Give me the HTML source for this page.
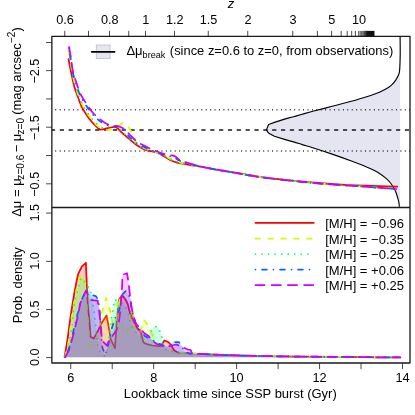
<!DOCTYPE html><html><head><meta charset="utf-8"><style>html,body{margin:0;padding:0;background:#fff}svg{display:block;will-change:transform}</style></head><body><svg width="415" height="415" viewBox="0 0 415 415" font-family="Liberation Sans, sans-serif" fill="#000">
<rect width="415" height="415" fill="#fff"/>
<g stroke="#000" fill="none">
<line x1="51.86" x2="410.0" y1="129.9" y2="129.9" stroke-width="1.45" stroke-dasharray="4.2,4.65" stroke-dashoffset="0.95" stroke="#1a1a1a"/>
<line x1="55.26" x2="410.0" y1="109.8" y2="109.8" stroke-width="1.45" stroke-dasharray="0.95,3.475" stroke="#2a2a2a"/>
<line x1="55.26" x2="410.0" y1="151.0" y2="151.0" stroke-width="1.45" stroke-dasharray="0.95,3.475" stroke="#2a2a2a"/>
</g>
<path d="M400.1,36.5 C400.1,39.6 400.3,49.4 400.2,55.0 C400.1,60.6 399.9,67.0 399.6,70.4 C399.3,73.8 398.9,73.9 398.2,75.5 C397.5,77.1 396.6,78.6 395.7,80.1 C394.8,81.5 393.8,82.9 392.5,84.2 C391.2,85.5 390.1,86.5 388.0,87.8 C385.9,89.1 382.9,90.7 380.0,92.0 C377.1,93.3 375.5,94.0 370.7,95.5 C365.9,97.0 357.8,99.5 351.4,101.3 C345.0,103.1 338.5,104.6 332.1,106.3 C325.7,108.0 317.8,110.0 312.8,111.3 C307.8,112.6 305.4,113.4 302.2,114.3 C299.0,115.2 296.4,115.9 293.6,116.7 C290.8,117.5 286.8,118.5 285.4,118.9 L275.2,122.1 L268.6,124.5 L266.4,129.9 L268.4,132.9 L274.4,136.3 L285.4,139.6  C286.8,140.0 290.8,141.1 293.6,141.9 C296.4,142.7 299.0,143.6 302.2,144.6 C305.4,145.6 307.8,146.1 312.8,147.7 C317.8,149.3 325.7,151.9 332.1,154.1 C338.5,156.3 345.0,158.6 351.4,161.0 C357.8,163.4 366.1,166.7 370.7,168.7 C375.2,170.7 376.1,171.4 378.7,173.0 C381.3,174.6 384.1,176.7 386.1,178.4 C388.1,180.1 389.2,181.4 390.5,183.0 C391.8,184.6 392.9,186.4 393.8,188.0 C394.7,189.6 395.4,190.9 396.0,192.5 C396.6,194.1 397.2,196.1 397.6,197.6 C398.1,199.1 398.4,200.0 398.7,201.5 C399.0,203.0 399.3,205.9 399.4,206.8 L400.1,206.8 L400.1,36.5 Z" fill="#000080" fill-opacity="0.1" stroke="none"/>
<path d="M400.1,36.5 C400.1,39.6 400.3,49.4 400.2,55.0 C400.1,60.6 399.9,67.0 399.6,70.4 C399.3,73.8 398.9,73.9 398.2,75.5 C397.5,77.1 396.6,78.6 395.7,80.1 C394.8,81.5 393.8,82.9 392.5,84.2 C391.2,85.5 390.1,86.5 388.0,87.8 C385.9,89.1 382.9,90.7 380.0,92.0 C377.1,93.3 375.5,94.0 370.7,95.5 C365.9,97.0 357.8,99.5 351.4,101.3 C345.0,103.1 338.5,104.6 332.1,106.3 C325.7,108.0 317.8,110.0 312.8,111.3 C307.8,112.6 305.4,113.4 302.2,114.3 C299.0,115.2 296.4,115.9 293.6,116.7 C290.8,117.5 286.8,118.5 285.4,118.9 L275.2,122.1 L268.6,124.5 L266.4,129.9 L268.4,132.9 L274.4,136.3 L285.4,139.6  C286.8,140.0 290.8,141.1 293.6,141.9 C296.4,142.7 299.0,143.6 302.2,144.6 C305.4,145.6 307.8,146.1 312.8,147.7 C317.8,149.3 325.7,151.9 332.1,154.1 C338.5,156.3 345.0,158.6 351.4,161.0 C357.8,163.4 366.1,166.7 370.7,168.7 C375.2,170.7 376.1,171.4 378.7,173.0 C381.3,174.6 384.1,176.7 386.1,178.4 C388.1,180.1 389.2,181.4 390.5,183.0 C391.8,184.6 392.9,186.4 393.8,188.0 C394.7,189.6 395.4,190.9 396.0,192.5 C396.6,194.1 397.2,196.1 397.6,197.6 C398.1,199.1 398.4,200.0 398.7,201.5 C399.0,203.0 399.3,205.9 399.4,206.8" fill="none" stroke="#000" stroke-width="1.15" stroke-linejoin="round"/>
<path d="M68.5,59.1 C68.9,61.2 70.0,67.1 71.0,71.7 C72.0,76.3 73.1,82.4 74.4,86.9 C75.7,91.4 77.4,95.4 78.6,98.7 C79.8,102.0 80.3,104.0 81.7,106.8 C83.1,109.5 85.1,112.7 86.8,115.2 C88.5,117.7 90.2,120.0 91.9,122.0 C93.6,124.0 95.5,125.7 96.9,127.0 C98.4,128.3 98.6,129.4 100.6,129.6 C102.6,129.8 106.4,128.3 108.7,127.9 C111.0,127.5 113.0,126.9 114.6,127.0 C116.1,127.1 116.7,127.7 118.0,128.7 C119.3,129.7 120.4,131.2 122.2,132.9 C124.0,134.6 126.5,136.7 129.0,138.8 C131.5,140.9 134.7,143.8 137.4,145.6 C140.1,147.4 143.0,148.9 145.0,149.8 C147.0,150.7 147.4,150.4 149.3,150.8 C151.2,151.2 154.1,151.6 156.5,152.5 C158.9,153.4 161.3,154.8 163.7,156.1 C166.1,157.4 168.6,159.4 171.0,160.5 C173.4,161.6 175.4,162.2 178.2,162.9 C181.0,163.6 183.8,163.9 187.8,164.6 C191.8,165.3 197.9,166.2 202.3,167.0 C206.7,167.8 209.7,168.6 214.3,169.4 C218.9,170.2 221.8,170.5 230.0,171.8 C238.2,173.1 249.6,175.5 263.2,177.3 C276.8,179.1 297.8,181.2 311.4,182.4 C325.0,183.7 330.7,184.1 345.0,184.8 C359.3,185.5 388.6,186.3 397.3,186.6" fill="none" stroke="#FF0000" stroke-width="1.75" stroke-linecap="round" stroke-linejoin="round"/>
<path d="M68.8,52.3 C69.1,54.2 70.0,59.5 70.8,64.0 C71.6,68.5 72.5,74.2 73.6,79.0 C74.7,83.8 76.3,89.0 77.6,93.0 C78.9,97.0 80.1,100.0 81.6,103.2 C83.1,106.5 84.9,109.8 86.6,112.5 C88.3,115.2 90.2,117.3 91.9,119.5 C93.6,121.7 94.9,123.7 96.9,125.4 C98.9,127.1 101.5,128.9 103.7,129.6 C106.0,130.3 108.2,130.0 110.4,129.6 C112.7,129.2 115.0,128.1 117.2,127.0 C119.5,125.9 121.9,122.6 123.9,122.8 C125.9,123.0 127.7,126.2 129.0,127.9 C130.3,129.6 130.6,131.0 131.5,133.0 C132.4,135.0 133.2,137.9 134.5,140.0 C135.8,142.1 137.1,144.0 139.0,145.5 C140.9,147.0 143.8,148.1 146.0,149.0 C148.2,149.9 150.0,150.3 152.0,151.0 C154.0,151.7 155.8,152.1 158.0,153.0 C160.2,153.9 162.7,155.1 165.0,156.2 C167.3,157.3 169.7,158.8 172.0,159.8 C174.3,160.8 176.4,161.5 179.0,162.2 C181.6,162.9 183.9,163.4 187.8,164.2 C191.7,165.0 197.8,166.0 202.3,166.8 C206.8,167.7 210.4,168.4 215.0,169.3 C219.6,170.2 222.0,170.6 230.0,172.0 C238.0,173.4 249.6,175.7 263.2,177.5 C276.8,179.3 297.8,181.5 311.4,182.8 C325.0,184.1 337.0,184.8 345.0,185.4 C353.0,186.0 353.8,185.9 359.6,186.3 C365.4,186.7 373.9,187.4 380.0,187.8 C386.1,188.2 393.7,188.8 396.4,189.0" fill="none" stroke="#CCFF00" stroke-width="1.75" stroke-linecap="round" stroke-linejoin="round" stroke-dasharray="4.73,8.23"/>
<path d="M68.8,51.0 C69.1,53.0 70.0,58.5 70.8,63.0 C71.6,67.5 72.4,73.2 73.5,78.0 C74.6,82.8 76.2,88.0 77.5,92.0 C78.8,96.0 80.0,98.8 81.5,102.0 C83.0,105.2 84.8,108.2 86.5,111.0 C88.2,113.8 90.2,116.4 91.9,118.6 C93.7,120.8 95.2,122.5 97.0,124.0 C98.8,125.5 100.6,127.5 102.8,127.9 C105.0,128.3 108.2,126.5 110.4,126.2 C112.6,125.9 114.2,125.5 116.0,126.2 C117.8,126.9 119.5,128.7 121.5,130.5 C123.5,132.3 125.5,134.9 128.0,137.2 C130.6,139.5 134.0,142.4 136.8,144.4 C139.6,146.4 142.5,147.9 145.0,149.0 C147.5,150.1 149.8,150.3 152.0,151.0 C154.2,151.7 155.8,152.2 158.0,153.0 C160.2,153.8 162.7,154.9 165.0,156.0 C167.3,157.1 169.7,158.5 172.0,159.5 C174.3,160.5 176.4,161.2 179.0,162.0 C181.6,162.8 183.9,163.2 187.8,164.0 C191.7,164.8 197.8,165.9 202.3,166.8 C206.8,167.7 210.4,168.4 215.0,169.3 C219.6,170.2 222.0,170.6 230.0,172.0 C238.0,173.4 249.6,175.7 263.2,177.5 C276.8,179.3 297.8,181.5 311.4,182.8 C325.0,184.1 337.0,184.8 345.0,185.4 C353.0,186.0 353.8,185.9 359.6,186.3 C365.4,186.7 373.9,187.4 380.0,187.8 C386.1,188.2 393.7,188.8 396.4,189.0" fill="none" stroke="#00FF66" stroke-width="1.75" stroke-linecap="round" stroke-linejoin="round" stroke-dasharray="0.01,6.61"/>
<path d="M69.1,48.3 C69.3,50.0 70.1,54.9 70.6,58.5 C71.1,62.1 71.4,66.1 72.2,70.0 C73.0,73.9 74.3,78.0 75.5,82.0 C76.7,86.0 78.1,90.5 79.6,94.0 C81.1,97.5 82.5,99.8 84.5,103.0 C86.5,106.2 89.8,110.9 91.9,113.5 C94.0,116.1 94.9,116.9 96.9,118.6 C98.9,120.3 101.2,122.4 103.7,123.7 C106.2,125.0 109.6,125.8 112.1,126.2 C114.6,126.7 116.4,125.6 118.5,126.4 C120.6,127.2 122.8,129.2 124.5,130.8 C126.2,132.5 127.0,134.3 129.0,136.3 C131.0,138.3 133.7,141.1 136.5,143.0 C139.3,144.9 142.8,146.5 146.0,148.0 C149.2,149.5 152.7,150.8 156.0,152.0 C159.3,153.2 163.0,154.4 166.0,155.3 C169.0,156.2 171.8,156.6 174.0,157.5 C176.2,158.4 177.1,159.5 179.4,160.5 C181.7,161.5 184.0,162.2 187.8,163.3 C191.6,164.4 197.8,165.8 202.3,166.8 C206.8,167.8 210.4,168.4 215.0,169.3 C219.6,170.2 222.0,170.6 230.0,172.0 C238.0,173.4 249.6,175.7 263.2,177.5 C276.8,179.3 297.8,181.5 311.4,182.8 C325.0,184.1 337.0,184.8 345.0,185.4 C353.0,186.0 353.8,185.9 359.6,186.3 C365.4,186.7 373.9,187.4 380.0,187.8 C386.1,188.2 393.7,188.8 396.4,189.0" fill="none" stroke="#0066FF" stroke-width="1.75" stroke-linecap="round" stroke-linejoin="round" stroke-dasharray="0.01,6.61,4.73,6.61"/>
<path d="M69.1,47.0 C69.4,48.9 70.4,54.4 71.0,58.2 C71.6,62.0 71.9,66.1 72.7,70.0 C73.5,73.9 74.8,77.9 76.1,81.8 C77.4,85.7 78.8,90.2 80.3,93.6 C81.8,97.0 84.0,99.9 85.4,102.1 C86.8,104.3 87.2,104.9 88.5,106.8 C89.8,108.7 91.5,111.4 93.5,113.5 C95.5,115.6 98.0,117.8 100.3,119.5 C102.5,121.2 104.8,123.0 107.0,124.0 C109.2,125.0 111.5,125.2 113.8,125.7 C116.0,126.2 118.5,126.2 120.5,127.0 C122.5,127.8 123.9,129.0 125.6,130.4 C127.3,131.8 128.7,133.6 130.6,135.5 C132.5,137.4 134.5,139.8 137.2,141.7 C139.9,143.6 143.7,145.4 146.9,147.0 C150.1,148.6 153.3,150.1 156.5,151.3 C159.7,152.6 163.1,153.7 166.1,154.5 C169.1,155.3 172.4,155.2 174.6,156.1 C176.8,157.0 177.2,158.7 179.4,159.8 C181.6,160.9 184.0,161.7 187.8,162.9 C191.6,164.1 197.8,165.7 202.3,166.8 C206.8,167.9 210.4,168.4 215.0,169.3 C219.6,170.2 222.0,170.6 230.0,172.0 C238.0,173.4 249.6,175.7 263.2,177.5 C276.8,179.3 297.8,181.5 311.4,182.8 C325.0,184.1 337.0,184.8 345.0,185.4 C353.0,186.0 353.8,185.9 359.6,186.3 C365.4,186.7 373.9,187.4 380.0,187.8 C386.1,188.2 393.7,188.8 396.4,189.0" fill="none" stroke="#CC00FF" stroke-width="1.75" stroke-linecap="round" stroke-linejoin="round" stroke-dasharray="9.59,6.61"/>
<path d="M64.6,357.0 L67.5,339.3 L70.0,320.5 L71.9,308.0 L74.4,292.6 L76.3,282.6 L78.2,273.8 L81.9,266.3 L85.9,262.8 L86.9,287.6 L87.8,305.0 L89.4,320.5 L90.5,336.8 L93.8,338.5 L97.3,332.5 L100.8,324.5 L106.5,315.4 L109.4,330.6 L110.7,339.3 L115.0,348.1 L116.6,323.0 L118.0,308.5 L119.0,299.5 L120.6,297.4 L122.8,296.0 L125.5,299.5 L127.7,303.9 L129.3,310.4 L131.5,316.9 L134.7,323.4 L136.3,326.8 L140.7,331.8 L143.2,341.8 L144.4,343.2 L147.6,344.3 L152.5,345.5 L160.7,346.3 L164.4,340.5 L168.2,342.0 L171.3,345.1 L173.8,350.1 L177.6,352.6 L192.0,353.5 L205.0,354.2 L220.0,354.8 L240.0,355.5 L260.0,356.0 L280.0,356.4 L300.0,356.6 L340.0,356.9 L380.0,357.3 L400.3,357.4 L400.3,357.2 L64.6,357.2 Z" fill="#FF0000" fill-opacity="0.2" stroke="none"/>
<path d="M64.6,357.0 L67.5,339.3 L70.0,320.5 L71.9,308.0 L74.4,292.6 L76.3,282.6 L78.2,273.8 L81.9,266.3 L85.9,262.8 L86.9,287.6 L87.8,305.0 L89.4,320.5 L90.5,336.8 L93.8,338.5 L97.3,332.5 L100.8,324.5 L106.5,315.4 L109.4,330.6 L110.7,339.3 L115.0,348.1 L116.6,323.0 L118.0,308.5 L119.0,299.5 L120.6,297.4 L122.8,296.0 L125.5,299.5 L127.7,303.9 L129.3,310.4 L131.5,316.9 L134.7,323.4 L136.3,326.8 L140.7,331.8 L143.2,341.8 L144.4,343.2 L147.6,344.3 L152.5,345.5 L160.7,346.3 L164.4,340.5 L168.2,342.0 L171.3,345.1 L173.8,350.1 L177.6,352.6 L192.0,353.5 L205.0,354.2 L220.0,354.8 L240.0,355.5 L260.0,356.0 L280.0,356.4 L300.0,356.6 L340.0,356.9 L380.0,357.3 L400.3,357.4" fill="none" stroke="#FF0000" stroke-width="1.75" stroke-linecap="round" stroke-linejoin="round"/>
<path d="M65.0,357.0 L68.8,340.6 L71.3,320.5 L72.5,311.8 L73.8,303.9 L76.9,287.6 L81.0,273.8 L85.7,283.8 L86.9,308.0 L88.2,323.0 L89.4,339.3 L90.5,346.2 L96.3,338.0 L99.5,328.0 L101.3,314.4 L102.2,311.5 L106.2,297.9 L108.1,303.3 L110.3,311.5 L111.9,318.0 L114.5,333.0 L117.2,312.0 L118.4,299.8 L119.2,297.0 L120.7,310.0 L122.0,322.0 L125.1,334.8 L128.1,329.3 L129.3,319.1 L131.0,303.0 L132.9,308.3 L134.7,328.7 L139.5,333.6 L141.5,327.0 L144.0,319.8 L146.9,323.8 L149.4,328.8 L152.5,335.0 L155.7,341.3 L158.8,344.5 L163.8,347.6 L167.0,350.0 L171.3,351.4 L180.0,352.5 L192.0,353.5 L205.0,354.2 L220.0,354.8 L240.0,355.5 L260.0,356.0 L280.0,356.4 L300.0,356.6 L340.0,356.9 L380.0,357.3 L400.3,357.4 L400.3,357.2 L65,357.2 Z" fill="#CCFF00" fill-opacity="0.2" stroke="none"/>
<path d="M65.0,357.0 L68.8,340.6 L71.3,320.5 L72.5,311.8 L73.8,303.9 L76.9,287.6 L81.0,273.8 L85.7,283.8 L86.9,308.0 L88.2,323.0 L89.4,339.3 L90.5,346.2 L96.3,338.0 L99.5,328.0 L101.3,314.4 L102.2,311.5 L106.2,297.9 L108.1,303.3 L110.3,311.5 L111.9,318.0 L114.5,333.0 L117.2,312.0 L118.4,299.8 L119.2,297.0 L120.7,310.0 L122.0,322.0 L125.1,334.8 L128.1,329.3 L129.3,319.1 L131.0,303.0 L132.9,308.3 L134.7,328.7 L139.5,333.6 L141.5,327.0 L144.0,319.8 L146.9,323.8 L149.4,328.8 L152.5,335.0 L155.7,341.3 L158.8,344.5 L163.8,347.6 L167.0,350.0 L171.3,351.4 L180.0,352.5 L192.0,353.5 L205.0,354.2 L220.0,354.8 L240.0,355.5 L260.0,356.0 L280.0,356.4 L300.0,356.6 L340.0,356.9 L380.0,357.3 L400.3,357.4" fill="none" stroke="#CCFF00" stroke-width="1.75" stroke-linecap="round" stroke-linejoin="round" stroke-dasharray="4.73,8.23"/>
<path d="M65.3,357.0 L68.8,343.0 L71.3,330.0 L72.5,323.0 L73.8,305.5 L75.3,298.0 L77.2,291.7 L79.0,285.5 L80.7,278.8 L83.2,278.2 L85.9,284.4 L90.1,288.6 L93.6,308.0 L94.5,314.3 L95.1,320.5 L96.6,333.7 L98.0,346.8 L100.1,352.5 L104.5,356.2 L107.0,351.2 L108.9,338.1 L110.1,331.2 L111.3,319.3 L112.5,312.5 L113.6,306.0 L114.6,299.5 L122.2,303.3 L126.6,308.7 L128.7,314.7 L129.8,320.7 L132.0,326.8 L135.0,331.0 L139.5,336.2 L145.6,336.8 L149.8,333.2 L152.5,327.9 L156.9,326.3 L160.7,332.3 L162.2,338.6 L163.2,344.5 L166.3,350.1 L172.6,351.4 L178.8,352.2 L192.0,353.5 L205.0,354.2 L220.0,354.8 L240.0,355.5 L260.0,356.0 L280.0,356.4 L300.0,356.6 L340.0,356.9 L380.0,357.3 L400.3,357.4 L400.3,357.2 L65.3,357.2 Z" fill="#00FF66" fill-opacity="0.2" stroke="none"/>
<path d="M65.3,357.0 L68.8,343.0 L71.3,330.0 L72.5,323.0 L73.8,305.5 L75.3,298.0 L77.2,291.7 L79.0,285.5 L80.7,278.8 L83.2,278.2 L85.9,284.4 L90.1,288.6 L93.6,308.0 L94.5,314.3 L95.1,320.5 L96.6,333.7 L98.0,346.8 L100.1,352.5 L104.5,356.2 L107.0,351.2 L108.9,338.1 L110.1,331.2 L111.3,319.3 L112.5,312.5 L113.6,306.0 L114.6,299.5 L122.2,303.3 L126.6,308.7 L128.7,314.7 L129.8,320.7 L132.0,326.8 L135.0,331.0 L139.5,336.2 L145.6,336.8 L149.8,333.2 L152.5,327.9 L156.9,326.3 L160.7,332.3 L162.2,338.6 L163.2,344.5 L166.3,350.1 L172.6,351.4 L178.8,352.2 L192.0,353.5 L205.0,354.2 L220.0,354.8 L240.0,355.5 L260.0,356.0 L280.0,356.4 L300.0,356.6 L340.0,356.9 L380.0,357.3 L400.3,357.4" fill="none" stroke="#00FF66" stroke-width="1.75" stroke-linecap="round" stroke-linejoin="round" stroke-dasharray="0.01,6.61"/>
<path d="M65.5,357.0 L70.0,345.6 L73.8,329.3 L77.5,314.3 L82.6,297.6 L85.9,290.7 L91.3,294.8 L95.7,296.1 L98.5,300.0 L100.5,320.0 L101.4,336.8 L102.5,348.1 L105.3,354.7 L108.1,345.6 L110.0,337.0 L111.9,328.0 L115.0,318.0 L117.9,313.6 L119.5,309.3 L121.7,295.2 L126.0,290.8 L129.3,296.3 L130.9,301.7 L131.5,308.2 L132.6,313.0 L135.7,323.0 L139.0,329.0 L142.6,333.0 L145.0,336.3 L150.0,338.5 L157.0,343.0 L163.8,345.7 L170.0,345.7 L172.8,342.0 L178.8,342.0 L182.0,346.3 L183.9,350.7 L190.0,353.9 L192.0,353.5 L205.0,354.2 L220.0,354.8 L240.0,355.5 L260.0,356.0 L280.0,356.4 L300.0,356.6 L340.0,356.9 L380.0,357.3 L400.3,357.4 L400.3,357.2 L65.5,357.2 Z" fill="#0066FF" fill-opacity="0.2" stroke="none"/>
<path d="M65.5,357.0 L70.0,345.6 L73.8,329.3 L77.5,314.3 L82.6,297.6 L85.9,290.7 L91.3,294.8 L95.7,296.1 L98.5,300.0 L100.5,320.0 L101.4,336.8 L102.5,348.1 L105.3,354.7 L108.1,345.6 L110.0,337.0 L111.9,328.0 L115.0,318.0 L117.9,313.6 L119.5,309.3 L121.7,295.2 L126.0,290.8 L129.3,296.3 L130.9,301.7 L131.5,308.2 L132.6,313.0 L135.7,323.0 L139.0,329.0 L142.6,333.0 L145.0,336.3 L150.0,338.5 L157.0,343.0 L163.8,345.7 L170.0,345.7 L172.8,342.0 L178.8,342.0 L182.0,346.3 L183.9,350.7 L190.0,353.9 L192.0,353.5 L205.0,354.2 L220.0,354.8 L240.0,355.5 L260.0,356.0 L280.0,356.4 L300.0,356.6 L340.0,356.9 L380.0,357.3 L400.3,357.4" fill="none" stroke="#0066FF" stroke-width="1.75" stroke-linecap="round" stroke-linejoin="round" stroke-dasharray="0.01,6.61,4.73,6.61"/>
<path d="M65.0,357.0 L68.8,350.6 L73.8,333.0 L78.8,311.8 L80.0,303.9 L85.9,290.7 L90.7,300.1 L97.6,300.7 L98.8,308.0 L100.7,324.3 L102.0,340.6 L107.0,345.6 L109.4,339.3 L111.3,337.4 L116.3,330.6 L118.8,323.0 L120.0,313.0 L121.1,299.5 L122.2,285.4 L122.4,274.9 L127.0,273.2 L128.7,283.3 L129.8,294.1 L131.2,305.6 L132.5,311.5 L134.2,318.0 L135.2,323.4 L137.6,325.4 L141.4,329.9 L143.8,332.6 L148.8,336.3 L152.5,340.7 L156.3,343.8 L160.7,345.5 L166.9,347.0 L171.3,345.5 L176.3,344.5 L182.6,347.0 L187.6,349.5 L190.8,350.0 L191.8,353.0 L192.0,353.5 L205.0,354.2 L220.0,354.8 L240.0,355.5 L260.0,356.0 L280.0,356.4 L300.0,356.6 L340.0,356.9 L380.0,357.3 L400.3,357.4 L400.3,357.2 L65,357.2 Z" fill="#CC00FF" fill-opacity="0.2" stroke="none"/>
<path d="M65.0,357.0 L68.8,350.6 L73.8,333.0 L78.8,311.8 L80.0,303.9 L85.9,290.7 L90.7,300.1 L97.6,300.7 L98.8,308.0 L100.7,324.3 L102.0,340.6 L107.0,345.6 L109.4,339.3 L111.3,337.4 L116.3,330.6 L118.8,323.0 L120.0,313.0 L121.1,299.5 L122.2,285.4 L122.4,274.9 L127.0,273.2 L128.7,283.3 L129.8,294.1 L131.2,305.6 L132.5,311.5 L134.2,318.0 L135.2,323.4 L137.6,325.4 L141.4,329.9 L143.8,332.6 L148.8,336.3 L152.5,340.7 L156.3,343.8 L160.7,345.5 L166.9,347.0 L171.3,345.5 L176.3,344.5 L182.6,347.0 L187.6,349.5 L190.8,350.0 L191.8,353.0 L192.0,353.5 L205.0,354.2 L220.0,354.8 L240.0,355.5 L260.0,356.0 L280.0,356.4 L300.0,356.6 L340.0,356.9 L380.0,357.3 L400.3,357.4" fill="none" stroke="#CC00FF" stroke-width="1.75" stroke-linecap="round" stroke-linejoin="round" stroke-dasharray="9.59,6.61"/>
<g stroke="#1a1a1a" fill="none" stroke-width="1.3">
<rect x="51.86" y="36.3" width="358.14" height="326.7" stroke-linejoin="round"/>
<line x1="51.86" x2="410.0" y1="207.5" y2="207.5"/>
</g>
<g stroke="#1a1a1a" stroke-width="0.8" fill="none">
<line x1="70.75" x2="70.75" y1="363.0" y2="369.1"/>
<line x1="112.22" x2="112.22" y1="363.0" y2="369.1"/>
<line x1="153.69" x2="153.69" y1="363.0" y2="369.1"/>
<line x1="195.16" x2="195.16" y1="363.0" y2="369.1"/>
<line x1="236.63" x2="236.63" y1="363.0" y2="369.1"/>
<line x1="278.10" x2="278.10" y1="363.0" y2="369.1"/>
<line x1="319.57" x2="319.57" y1="363.0" y2="369.1"/>
<line x1="361.04" x2="361.04" y1="363.0" y2="369.1"/>
<line x1="402.51" x2="402.51" y1="363.0" y2="369.1"/>
<line x1="64.75" x2="64.75" y1="36.3" y2="30.9"/>
<line x1="88.50" x2="88.50" y1="36.3" y2="30.9"/>
<line x1="109.50" x2="109.50" y1="36.3" y2="30.9"/>
<line x1="128.75" x2="128.75" y1="36.3" y2="30.9"/>
<line x1="145.50" x2="145.50" y1="36.3" y2="30.9"/>
<line x1="174.50" x2="174.50" y1="36.3" y2="30.9"/>
<line x1="208.25" x2="208.25" y1="36.3" y2="30.9"/>
<line x1="247.75" x2="247.75" y1="36.3" y2="30.9"/>
<line x1="292.75" x2="292.75" y1="36.3" y2="30.9"/>
<line x1="317.40" x2="317.40" y1="36.3" y2="30.9"/>
<line x1="331.60" x2="331.60" y1="36.3" y2="30.9"/>
<line x1="341.20" x2="341.20" y1="36.3" y2="30.9"/>
<line x1="347.20" x2="347.20" y1="36.3" y2="30.9"/>
<line x1="351.70" x2="351.70" y1="36.3" y2="30.9"/>
<line x1="355.40" x2="355.40" y1="36.3" y2="30.9"/>
<line x1="358.70" x2="358.70" y1="36.3" y2="30.9"/>
<line x1="360.20" x2="360.20" y1="36.3" y2="30.9"/>
<line x1="361.70" x2="361.70" y1="36.3" y2="30.9"/>
<line x1="362.90" x2="362.90" y1="36.3" y2="30.9"/>
<line x1="363.90" x2="363.90" y1="36.3" y2="30.9"/>
<line x1="364.70" x2="364.70" y1="36.3" y2="30.9"/>
<line x1="365.40" x2="365.40" y1="36.3" y2="30.9"/>
<line x1="366.00" x2="366.00" y1="36.3" y2="30.9"/>
<line x1="366.50" x2="366.50" y1="36.3" y2="30.9"/>
<rect x="366.6" y="30.9" width="7.9" height="5.4" fill="#111" stroke="none"/>
<line x1="51.86" x2="46.06" y1="42.5" y2="42.5"/>
<line x1="51.86" x2="46.06" y1="70.6" y2="70.6"/>
<line x1="51.86" x2="46.06" y1="98.9" y2="98.9"/>
<line x1="51.86" x2="46.06" y1="127.2" y2="127.2"/>
<line x1="51.86" x2="46.06" y1="155.5" y2="155.5"/>
<line x1="51.86" x2="46.06" y1="183.8" y2="183.8"/>
<line x1="51.86" x2="46.06" y1="213.1" y2="213.1"/>
<line x1="51.86" x2="46.06" y1="261.35" y2="261.35"/>
<line x1="51.86" x2="46.06" y1="309.6" y2="309.6"/>
<line x1="51.86" x2="46.06" y1="357.6" y2="357.6"/>
</g>
<g font-size="12.7" text-anchor="middle">
<text x="70.75" y="381.9">6</text>
<text x="153.69" y="381.9">8</text>
<text x="236.63" y="381.9">10</text>
<text x="319.57" y="381.9">12</text>
<text x="402.51" y="381.9">14</text>
<text x="65.05" y="24.4">0.6</text>
<text x="109.80" y="24.4">0.8</text>
<text x="145.80" y="24.4">1</text>
<text x="174.80" y="24.4">1.2</text>
<text x="208.55" y="24.4">1.5</text>
<text x="248.05" y="24.4">2</text>
<text x="293.05" y="24.4">3</text>
<text x="331.90" y="24.4">5</text>
<text x="359.00" y="24.4">10</text>
</g>
<g font-size="12.7" text-anchor="middle">
<text transform="translate(39.3,71.1) rotate(-90)">−2.5</text>
<text transform="translate(39.3,127.7) rotate(-90)">−1.5</text>
<text transform="translate(39.3,184.3) rotate(-90)">−0.5</text>
<text transform="translate(39.3,212.79999999999998) rotate(-90)">1.5</text>
<text transform="translate(39.3,261.05) rotate(-90)">1.0</text>
<text transform="translate(39.3,309.3) rotate(-90)">0.5</text>
<text transform="translate(39.3,357.3) rotate(-90)">0.0</text>
</g>
<text x="230.3" y="397.9" font-size="13" text-anchor="middle">Lookback time since SSP burst (Gyr)</text>
<text x="231" y="7.6" font-size="13" text-anchor="middle" font-style="italic">z</text>
<text transform="translate(22.3,285.2) rotate(-90)" font-size="13" text-anchor="middle">Prob. density</text>
<text transform="translate(21.4,122.0) rotate(-90)" font-size="13" text-anchor="middle">Δμ = μ<tspan font-size="10.1" dy="2.7" dx="-1.3">z=0.6</tspan><tspan dy="-2.7" dx="-1.3"> − μ</tspan><tspan font-size="10.1" dy="2.7" dx="-0.9">z=0</tspan><tspan dy="-2.7" dx="-0.5"> (mag arcsec</tspan><tspan font-size="10.1" dy="-6.1" dx="0.3">−2</tspan><tspan dy="6.1">)</tspan></text>
<rect x="96.3" y="45.0" width="13.8" height="13.6" fill="#000080" fill-opacity="0.1" stroke="#bcbcd0" stroke-width="0.8"/>
<line x1="91.7" x2="114.6" y1="51.8" y2="51.8" stroke="#000" stroke-width="1.7" stroke-linecap="round"/>
<text x="126.4" y="55.4" font-size="13">Δμ<tspan font-size="9.1" dy="2.2">break</tspan><tspan dy="-2.2" dx="0.9" font-size="12.93"> (since z=0.6 to z=0, from observations)</tspan></text>
<path d="M255.45,222.8 L313.75,222.8" fill="none" stroke="#FF0000" stroke-width="1.75" stroke-linecap="round"/>
<text x="325.2" y="227.8" font-size="13">[M/H] = −0.96</text>
<path d="M255.45,238.5 L313.75,238.5" fill="none" stroke="#CCFF00" stroke-width="1.75" stroke-linecap="round" stroke-dasharray="4.65,8.25"/>
<text x="325.2" y="243.5" font-size="13">[M/H] = −0.35</text>
<path d="M255.45,254.0 L313.75,254.0" fill="none" stroke="#00FF66" stroke-width="1.75" stroke-linecap="round" stroke-dasharray="0.01,6.54"/>
<text x="325.2" y="259.0" font-size="13">[M/H] = −0.25</text>
<path d="M255.45,269.6 L313.75,269.6" fill="none" stroke="#0066FF" stroke-width="1.75" stroke-linecap="round" stroke-dasharray="0.01,6.6,4.8,6.6"/>
<text x="325.2" y="274.6" font-size="13">[M/H] = +0.06</text>
<path d="M255.45,285.1 L313.75,285.1" fill="none" stroke="#CC00FF" stroke-width="1.75" stroke-linecap="round" stroke-dasharray="9.2,7.0"/>
<text x="325.2" y="290.1" font-size="13">[M/H] = +0.25</text>
</svg></body></html>
